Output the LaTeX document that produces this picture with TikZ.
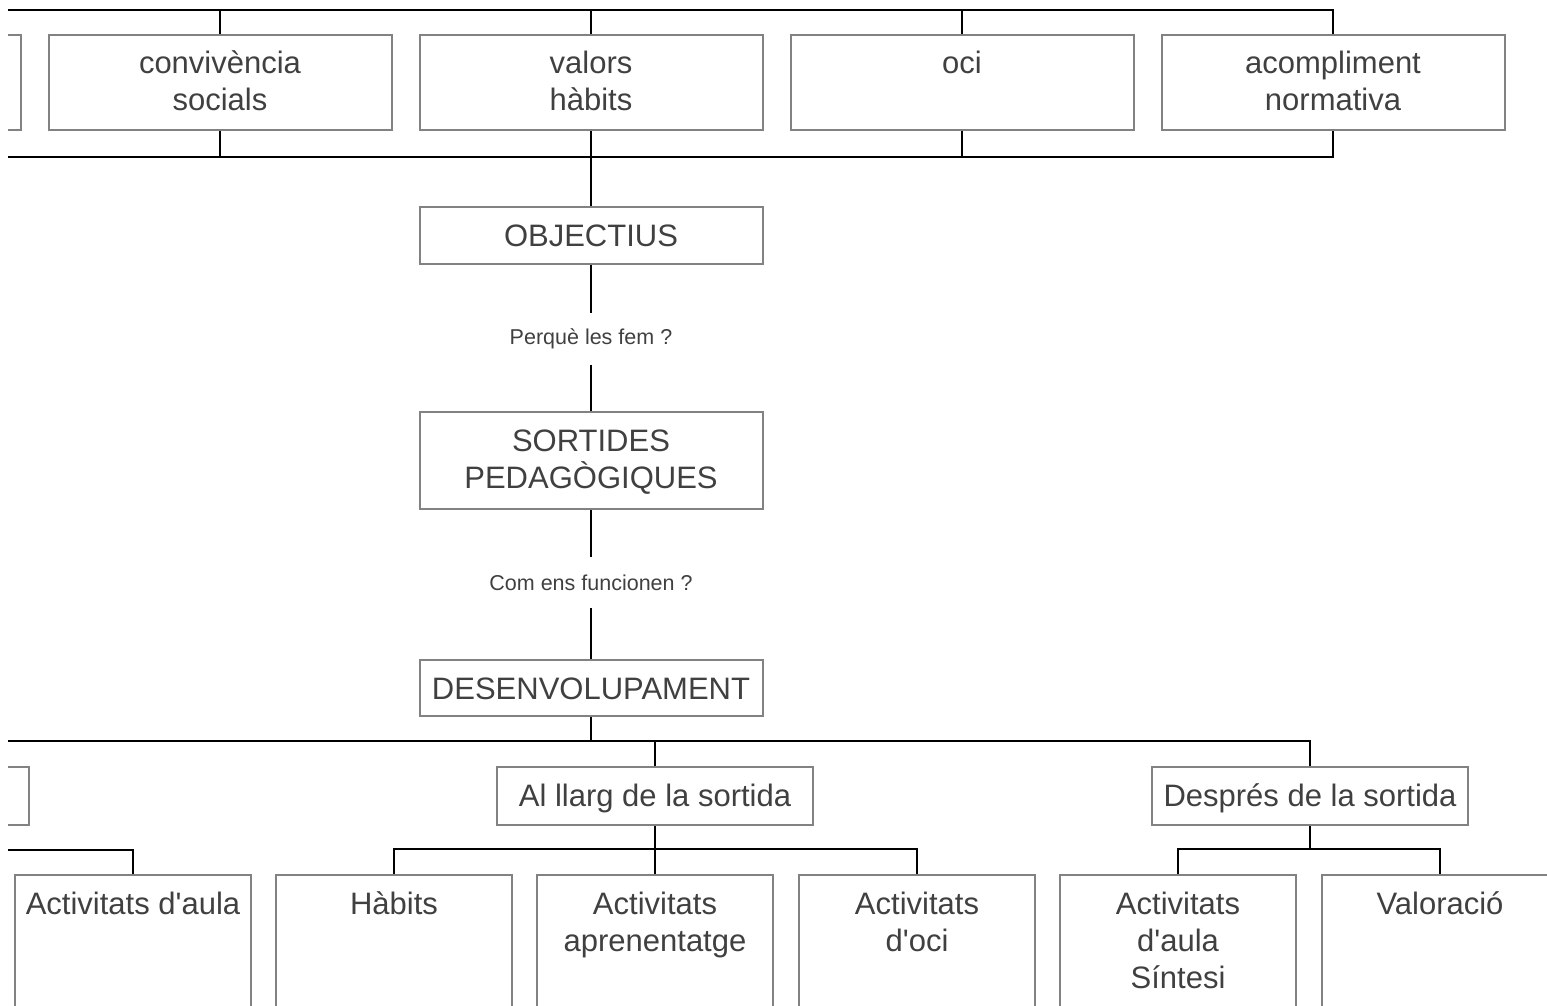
\documentclass[tikz,border=0pt]{standalone}
\usepackage{fontspec}
\setmainfont{Liberation Sans}
\usetikzlibrary{calc}
\definecolor{txtgray}{RGB}{64,64,64}
\definecolor{boxgray}{RGB}{130,130,130}
\newcommand\bt[3]{\parbox[c][#2][t]{#1}{\centering\rule{0pt}{39pt}#3}}
\newcommand\ap{\textquotesingle}
\begin{document}
\begin{tikzpicture}[x={(1pt,0pt)},y={(0pt,-1pt)},
  box/.style={draw=boxgray, line width=2pt, inner sep=0pt, text=txtgray, font=\fontsize{31}{37}\selectfont},
  conn/.style={draw=black, line width=2.2pt},
  lbl/.style={inner sep=0pt, minimum height=51pt, text=txtgray, font=\fontsize{21.5}{26}\selectfont}]
\useasboundingbox (0,0) rectangle (1547,1006);
\clip (8,0) rectangle (1547,1006);
% top row
\node[box] (lp1) at (-151,82.5) {\bt{343pt}{95pt}{}};
\node[box] (conv) at (220,82.5) {\bt{343pt}{95pt}{convivència\\socials}};
\node[box] (valh) at (591,82.5) {\bt{343pt}{95pt}{valors\\hàbits}};
\node[box] (oci) at (962,82.5) {\bt{343pt}{95pt}{oci}};
\node[box] (acom) at (1333,82.5) {\bt{343pt}{95pt}{acompliment\\normativa}};
\coordinate (tl) at (0,10);
\coordinate (bl) at (0,157);
\draw[conn] (tl) -| (acom.north);
\draw[conn] (bl) -| (acom.south);
\foreach \n in {conv,valh,oci}{
  \draw[conn] (\n.north) -- (\n.north |- tl);
  \draw[conn] (\n.south) -- (\n.south |- bl);
}
% central column
\node[box] (obj) at (591,235.5) {\bt{343pt}{57pt}{OBJECTIUS}};
\node[lbl] (q1) at (591,339) {Perquè les fem ?};
\node[box] (sort) at (591,460.5) {\bt{343pt}{97pt}{SORTIDES\\PEDAGÒGIQUES}};
\node[lbl] (q2) at (591,582.5) {Com ens funcionen ?};
\node[box] (des) at (591,688) {\bt{343pt}{56pt}{DESENVOLUPAMENT}};
\draw[conn] (valh.south) -- (obj.north);
\draw[conn] (obj.south) -- (q1.north);
\draw[conn] (q1.south) -- (sort.north);
\draw[conn] (sort.south) -- (q2.north);
\draw[conn] (q2.south) -- (des.north);
% middle row
\node[box] (abans) at (-129,796) {\bt{316pt}{58pt}{}};
\node[box] (llarg) at (655,796) {\bt{316pt}{58pt}{Al llarg de la sortida}};
\node[box] (despr) at (1310,796) {\bt{316pt}{58pt}{Després de la sortida}};
\coordinate (ml) at (0,741);
\draw[conn] (ml) -| (despr.north);
\draw[conn] (des.south) -- (des.south |- ml);
\draw[conn] (llarg.north) -- (llarg.north |- ml);
% bottom row
\node[box] (aula1) at (133,975) {\bt{236pt}{200pt}{Activitats d\ap aula}};
\node[box] (habits) at (394,975) {\bt{236pt}{200pt}{Hàbits}};
\node[box] (apren) at (655,975) {\bt{236pt}{200pt}{Activitats\\aprenentatge}};
\node[box] (aoci) at (917,975) {\bt{236pt}{200pt}{Activitats\\d\ap oci}};
\node[box] (sint) at (1178,975) {\bt{236pt}{200pt}{Activitats\\d\ap aula\\Síntesi}};
\node[box] (valor) at (1440,975) {\bt{236pt}{200pt}{Valoració}};
\coordinate (lg) at (0,850);
\draw[conn] (lg) -| (aula1.north);
\draw[conn] (habits.north) -- ++(0,-25) -| (aoci.north);
\draw[conn] (llarg.south) -- (apren.north);
\draw[conn] (sint.north) -- ++(0,-25) -| (valor.north);
\draw[conn] (despr.south) -- (despr.south |- 0,850);
\end{tikzpicture}
\end{document}
